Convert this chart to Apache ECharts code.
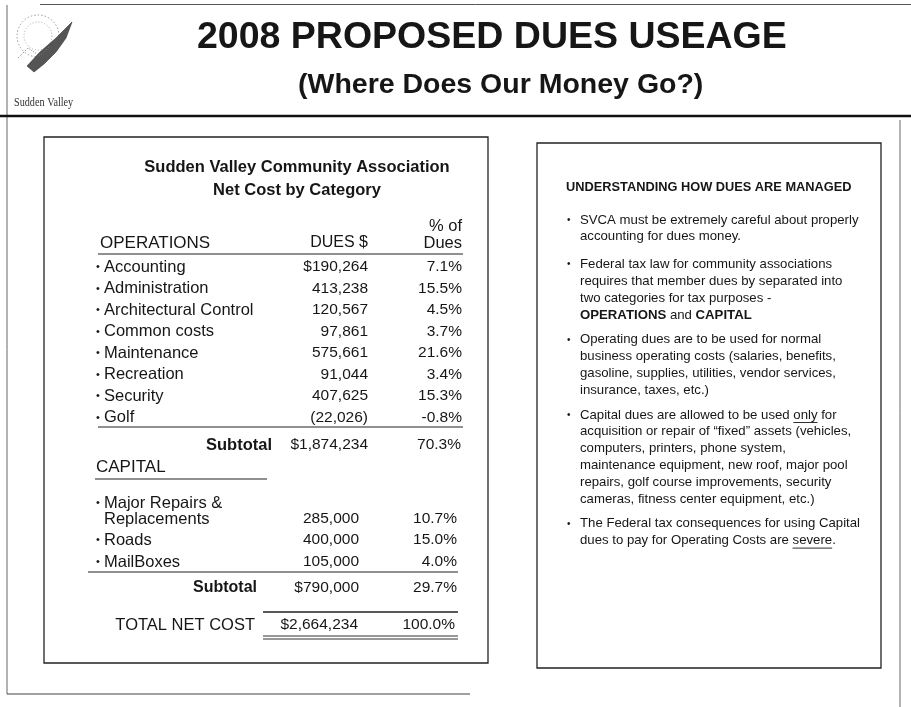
<!DOCTYPE html>
<html><head><meta charset="utf-8">
<script src="https://cdn.jsdelivr.net/npm/echarts@6/dist/echarts.min.js"></script>
<style>html,body{margin:0;padding:0;background:#fff}#c{width:911px;height:707px}</style>
</head><body><div id="c"></div>
<script>
// ---------- data ----------
const mainTitle = '2008 PROPOSED DUES USEAGE';
const subTitle = '(Where Does Our Money Go?)';
const logoText = 'Sudden Valley';
const tableTitle = ['Sudden Valley Community Association', 'Net Cost by Category'];
const colHeaders = ['OPERATIONS', 'DUES $', '% of', 'Dues'];
const opsLabels = ['Accounting', 'Administration', 'Architectural Control', 'Common costs', 'Maintenance', 'Recreation', 'Security', 'Golf'];
const opsDues = [190264, 413238, 120567, 97861, 575661, 91044, 407625, -22026];
const opsPct = [7.1, 15.5, 4.5, 3.7, 21.6, 3.4, 15.3, -0.8];
const opsSubtotal = [1874234, 70.3];
const capHeader = 'CAPITAL';
const capLabels = ['Major Repairs &\nReplacements', 'Roads', 'MailBoxes'];
const capDues = [285000, 400000, 105000];
const capPct = [10.7, 15.0, 4.0];
const capSubtotal = [790000, 29.7];
const totalLabel = 'TOTAL NET COST';
const totalNet = [2664234, 100.0];
const noteTitle = 'UNDERSTANDING HOW DUES ARE MANAGED';
const notes = [
  ['SVCA must be extremely careful about properly', 'accounting for dues money.'],
  ['Federal tax law for community associations', 'requires that member dues by separated into', 'two categories for tax purposes -', '**OPERATIONS** and **CAPITAL**'],
  ['Operating dues are to be used for normal', 'business operating costs (salaries, benefits,', 'gasoline, supplies, utilities, vendor services,', 'insurance, taxes, etc.)'],
  ['Capital dues are allowed to be used __only__ for', 'acquisition or repair of \u201cfixed\u201d assets (vehicles,', 'computers, printers, phone system,', 'maintenance equipment, new roof, major pool', 'repairs, golf course improvements, security', 'cameras, fitness center equipment, etc.)'],
  ['The Federal tax consequences for using Capital', 'dues to pay for Operating Costs are __severe__.']
];

// ---------- helpers ----------
const FONT = "'Liberation Sans', Arial, Helvetica, sans-serif";
const INK = '#161616';
const fmtNum = v => Math.abs(v).toLocaleString('en-US');
const fmtDues = (v, dollar) => v < 0 ? '(' + fmtNum(v) + ')' : (dollar ? '$' : '') + fmtNum(v);
const fmtPct = v => v.toFixed(1) + '%';
const ctx = document.createElement('canvas').getContext('2d');
function measure(str, size, weight) { ctx.font = (weight || 'normal') + ' ' + size + 'px ' + FONT; return ctx.measureText(str).width; }

const els = [];
function txt(x, y, s, o) {
  o = o || {};
  els.push({ type: 'text', x: x, y: y, silent: true, scaleX: o.scaleX || 1, style: {
    text: s, fill: o.fill || INK, fontSize: o.size || 15.5, fontWeight: o.weight || 'normal',
    fontFamily: o.family || FONT, align: o.align || 'left', verticalAlign: 'middle'
  } });
}
function line(x1, y1, x2, y2, w, c, dash) {
  els.push({ type: 'line', silent: true, shape: { x1: x1, y1: y1, x2: x2, y2: y2 },
    style: { stroke: c || '#222', lineWidth: w || 1, lineDash: dash } });
}
function rect(x, y, w, h, lw, c) {
  els.push({ type: 'rect', silent: true, shape: { x: x, y: y, width: w, height: h },
    style: { fill: 'none', stroke: c || '#333', lineWidth: lw || 1.2 } });
}

// ---------- page frame ----------
line(40, 4.5, 911, 4.5, 1, '#555');
line(7, 5, 7, 694, 1, '#666');
line(7, 694, 470, 694, 1.2, '#444');
line(900, 120, 900, 707, 1, '#666');
line(0, 116, 911, 116, 2.6, '#111');

// ---------- logo ----------
els.push({ type: 'circle', silent: true, shape: { cx: 38, cy: 36, r: 21 }, style: { fill: 'none', stroke: '#999', lineWidth: 1, lineDash: [1.5, 2] } });
els.push({ type: 'circle', silent: true, shape: { cx: 38, cy: 36, r: 14 }, style: { fill: 'none', stroke: '#aaa', lineWidth: 1, lineDash: [1, 2] } });
els.push({ type: 'polygon', silent: true, shape: { points: [[27, 66], [40, 52], [56, 38], [72, 22], [66, 38], [56, 52], [44, 64], [34, 72]] }, style: { fill: '#555', stroke: '#333', lineWidth: 0.6 } });
els.push({ type: 'polyline', silent: true, shape: { points: [[18, 58], [28, 48], [40, 56], [50, 46]] }, style: { stroke: '#777', lineWidth: 1, lineDash: [1, 1.5], fill: 'none' } });
txt(14, 103, logoText, { size: 12, family: "'Liberation Serif', 'DejaVu Serif', serif", scaleX: 0.85, fill: '#333' });

// ---------- titles ----------
txt(197, 38, mainTitle, { size: 37.5, weight: 'bold' });
txt(298, 85, subTitle, { size: 28.5, weight: 'bold' });

// ---------- left table ----------
rect(44, 137, 444, 526, 1.3, '#222');
txt(297, 167, tableTitle[0], { size: 16.5, weight: 'bold', align: 'center' });
txt(297, 190, tableTitle[1], { size: 16.5, weight: 'bold', align: 'center' });
const LS = 16.5;
const xBul = 96, xTxt = 104, xD1 = 368, xP1 = 462, xD2 = 359, xP2 = 457;
txt(xP1, 226, colHeaders[2], { align: 'right', size: LS });
txt(100, 243, colHeaders[0], { size: 17 });
txt(xD1, 243, colHeaders[1], { align: 'right', size: 16 });
txt(xP1, 243, colHeaders[3], { align: 'right', size: LS });
line(98, 254, 463, 254, 1.2, '#222');
opsLabels.forEach((lab, i) => {
  const y = 267 + i * 21.5;
  txt(xBul, y, '\u2022', { size: 11 });
  txt(xTxt, y, lab, { size: LS });
  txt(xD1, y, fmtDues(opsDues[i], i === 0), { align: 'right' });
  txt(xP1, y, fmtPct(opsPct[i]), { align: 'right' });
});
line(98, 427, 463, 427, 1.2, '#222');
txt(272, 445, 'Subtotal', { align: 'right', weight: 'bold', size: 16.5 });
txt(xD1, 445, fmtDues(opsSubtotal[0], true), { align: 'right' });
txt(xP1 - 1, 445, fmtPct(opsSubtotal[1]), { align: 'right' });
txt(96, 467, capHeader, { size: 17 });
line(95, 479, 267, 479, 1.2, '#222');
const capY = [519, 540, 562];
capLabels.forEach((lab, i) => {
  const parts = lab.split('\n');
  const y = capY[i];
  if (parts.length > 1) {
    txt(xBul, y - 16, '\u2022', { size: 11 });
    txt(xTxt, y - 16, parts[0], { size: LS });
    txt(xTxt, y, parts[1], { size: LS });
  } else {
    txt(xBul, y, '\u2022', { size: 11 });
    txt(xTxt, y, parts[0], { size: LS });
  }
  txt(xD2, y, fmtDues(capDues[i], false), { align: 'right' });
  txt(xP2, y, fmtPct(capPct[i]), { align: 'right' });
});
line(88, 572, 458, 572, 1.2, '#222');
txt(257, 588, 'Subtotal', { align: 'right', weight: 'bold', size: 16 });
txt(xD2, 588, fmtDues(capSubtotal[0], true), { align: 'right' });
txt(xP2, 588, fmtPct(capSubtotal[1]), { align: 'right' });
line(263, 612, 458, 612, 1.4, '#222');
txt(255, 625, totalLabel, { align: 'right', size: 16.5 });
txt(xD2 - 1, 625, fmtDues(totalNet[0], true), { align: 'right' });
txt(xP2 - 2, 625, fmtPct(totalNet[1]), { align: 'right' });
line(263, 636, 458, 636, 1.2, '#333');
line(263, 639, 458, 639, 1.2, '#333');

// ---------- right notes ----------
rect(537, 143, 344, 525, 1.3, '#222');
txt(566, 187, noteTitle, { size: 12.8, weight: 'bold' });
const NS = 13.2, LH = 16.8, PG = 8;
let ny = 220;
notes.forEach((par, pi) => {
  if (pi === 1) ny += 3;
  txt(567, ny, '\u2022', { size: 10 });
  par.forEach(ln => {
    const segs = ln.split(/(\*\*[^*]+\*\*|__[^_]+__)/).filter(s => s.length);
    let x = 580;
    segs.forEach(s => {
      let weight = 'normal', under = false, t = s;
      if (s.startsWith('**')) { weight = 'bold'; t = s.slice(2, -2); }
      else if (s.startsWith('__')) { under = true; t = s.slice(2, -2); }
      txt(x, ny, t, { size: NS, weight: weight });
      const w = measure(t, NS, weight);
      if (under) line(x, ny + 7.5, x + w, ny + 7.5, 0.9, INK);
      x += w;
    });
    ny += LH;
  });
  ny += PG;
});

const chart = echarts.init(document.getElementById('c'), null, { renderer: 'canvas' });
chart.setOption({ backgroundColor: '#fff', animation: false, graphic: { elements: els } });
</script></body></html>
